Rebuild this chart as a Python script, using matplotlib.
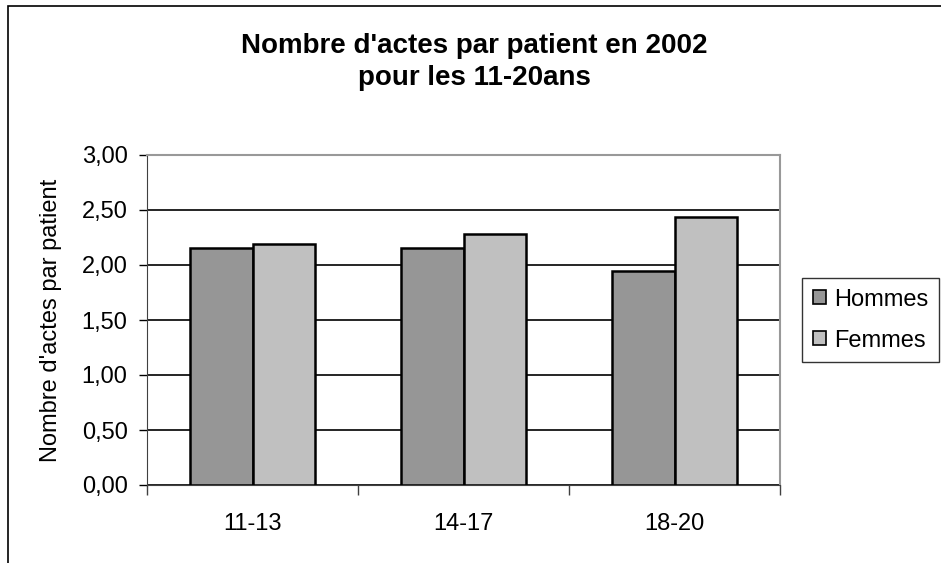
import matplotlib.pyplot as plt
import numpy as np
from matplotlib.patches import Rectangle

plt.rcParams['font.family'] = ['Liberation Sans', 'DejaVu Sans']

categories = ['11-13', '14-17', '18-20']
hommes = [2.15, 2.15, 1.95]
femmes = [2.19, 2.28, 2.44]
yticks = [0.0, 0.5, 1.0, 1.5, 2.0, 2.5, 3.0]
ytick_labels = ['0,00', '0,50', '1,00', '1,50', '2,00', '2,50', '3,00']

fig = plt.figure(figsize=(9.41, 5.63), dpi=100)
ax = fig.add_axes([147/941, 1 - 485/563, 633/941, 330/563])

# outer chart border (cut at right/bottom like the original)
fig.patches.append(Rectangle((8/941, -0.1), 1.2, 1 - 6/563 + 0.1,
                             transform=fig.transFigure, fill=False,
                             edgecolor='black', linewidth=1.2))

x = np.arange(len(categories))
w = 0.295
ax.bar(x - w/2, hommes, w, color='#969696', edgecolor='black', linewidth=1.8,
       label='Hommes', zorder=3)
ax.bar(x + w/2, femmes, w, color='#C0C0C0', edgecolor='black', linewidth=1.8,
       label='Femmes', zorder=3)

ax.set_xlim(-0.5, len(categories) - 0.5)
ax.set_ylim(0, 3)
ax.set_yticks(yticks)
ax.set_yticklabels(ytick_labels)
ax.set_xticks(x)
ax.set_xticklabels(categories)
ax.set_xticks(np.arange(len(categories) + 1) - 0.5, minor=True)
ax.tick_params(axis='x', which='major', length=0, pad=20, labelsize=17)
ax.tick_params(axis='x', which='minor', length=7, width=1, color='#404040')
ax.tick_params(axis='y', length=6, width=1, pad=8, labelsize=17)

ax.yaxis.grid(True, color='black', linewidth=1.2, zorder=0)
ax.set_axisbelow(True)
for s in ['top', 'right']:
    ax.spines[s].set_color('#999999')
    ax.spines[s].set_linewidth(1.5)
ax.spines['left'].set_color('#404040')
ax.spines['bottom'].set_color('#404040')

ax.set_ylabel("Nombre d'actes par patient", fontsize=17, labelpad=14)

fig.text(474/941, 1 - 62/563, "Nombre d'actes par patient en 2002\npour les 11-20ans",
         ha='center', va='center', fontsize=20, fontweight='bold', linespacing=1.3)

leg = fig.legend(loc='upper left', bbox_to_anchor=(802/941, 1 - 278/563),
                 frameon=True, fontsize=17, handlelength=0.55, handleheight=0.55,
                 handletextpad=0.35, borderpad=0.45, labelspacing=0.8,
                 fancybox=False, edgecolor='black', borderaxespad=0)
leg.get_frame().set_linewidth(1.0)
for h in leg.legend_handles:
    h.set_linewidth(1.2)

fig.savefig('out.png', dpi=100)
